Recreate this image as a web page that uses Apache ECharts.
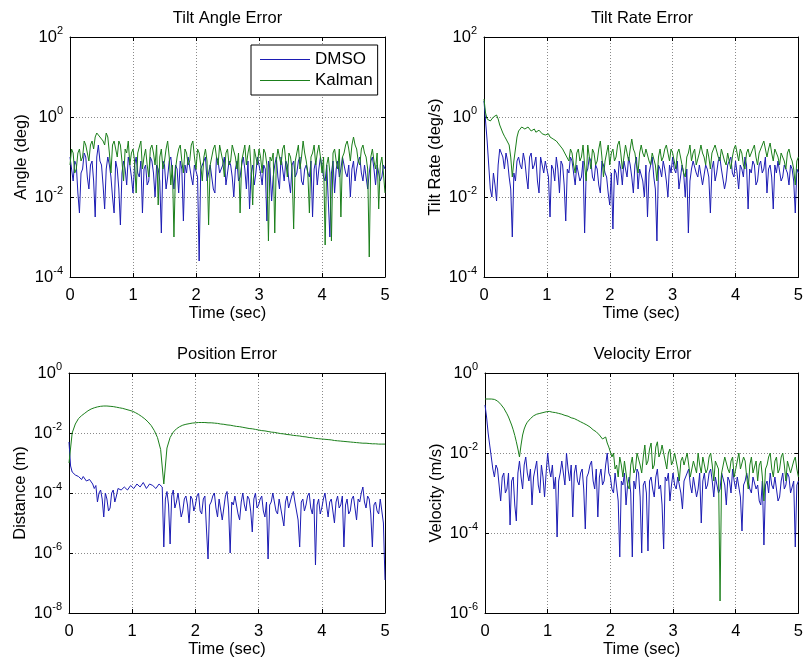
<!DOCTYPE html>
<html>
<head>
  <meta charset="utf-8">
  <script src="https://cdn.jsdelivr.net/npm/echarts@6.0.0/dist/echarts.min.js"></script>
</head>
<body style="margin:0;background:#fff">
  <div id="main" style="width:806px;height:664px;"></div>

<script type="text/javascript">
// all series are log10 of the error, sampled evenly from 0 to 5 s
// (0.025 s steps, except posKalman which is smooth and uses 0.05 s)

var angleDmso = [
  -1.0, -1.3, -1.6, -1.1, -1.2, -1.9, -2.4, -1.4, -1.3, -0.9, -1.0, -1.5, -1.8, -1.2, -1.1, -1.6, -2.5, -1.0, -0.7, -1.1,
  -1.2, -1.7, -2.3, -1.3, -1.0, -1.2, -1.5, -2.0, -2.4, -1.1, -1.3, -1.8, -2.7, -1.4, -1.1, -1.3, -1.7, -1.0, -1.2, -1.5,
  -1.9, -1.2, -1.0, -1.4, -1.5, -1.1, -2.4, -1.3, -1.2, -1.7, -1.6, -1.0, -1.1, -1.4, -2.0, -1.2, -1.3, -1.6, -2.9, -1.1,
  -1.2, -1.8, -1.5, -1.1, -1.0, -1.4, -1.8, -1.2, -1.3, -1.9, -1.1, -1.3, -2.6, -1.2, -1.4, -1.0, -1.0, -1.5, -1.7, -1.2,
  -1.2, -1.5, -3.6, -1.3, -1.3, -1.1, -1.0, -1.6, -1.6, -1.2, -1.2, -1.8, -1.9, -1.0, -1.1, -1.4, -1.4, -1.2, -1.0, -1.7,
  -1.7, -1.1, -1.2, -1.5, -2.0, -1.3, -1.1, -1.6, -1.5, -1.2, -1.0, -1.3, -1.8, -1.1, -2.3, -1.4, -1.2, -1.7, -1.4, -1.0,
  -1.0, -1.4, -1.7, -1.2, -1.3, -2.6, -1.1, -1.3, -2.1, -1.5, -1.2, -1.0, -1.5, -1.8, -1.0, -1.3, -1.6, -1.1, -1.2, -1.6,
  -1.9, -1.2, -1.1, -1.5, -1.4, -1.1, -1.0, -1.6, -1.7, -1.3, -1.2, -1.4, -1.5, -1.1, -2.5, -1.3, -1.1, -1.7, -1.3, -1.0,
  -1.0, -1.5, -1.6, -1.2, -1.2, -3.0, -1.4, -1.1, -1.9, -1.3, -1.1, -1.5, -1.3, -1.0, -1.0, -1.4, -1.5, -1.2, -2.0, -1.3,
  -1.1, -1.6, -1.3, -1.1, -1.0, -1.4, -1.6, -1.2, -1.2, -1.8, -1.4, -1.1, -1.0, -1.3, -1.7, -1.2, -1.2, -1.6, -1.5, -1.2,
  -1.3
];
var angleKalman = [
  -1.2, -0.8, -0.9, -1.4, -1.3, -0.9, -0.8, -1.1, -1.0, -0.6, -0.7, -0.9, -1.1, -0.7, -0.6, -0.8, -0.5, -0.4, -0.35, -0.5,
  -0.45, -0.6, -0.7, -0.4, -0.5, -0.9, -1.4, -0.7, -0.6, -0.8, -1.0, -0.6, -0.7, -1.1, -1.6, -0.8, -0.9, -0.6, -1.2, -0.9,
  -0.8, -1.1, -1.9, -0.9, -0.9, -0.6, -1.3, -1.0, -0.8, -1.2, -1.5, -0.8, -0.7, -0.9, -1.2, -0.7, -2.2, -1.0, -0.8, -1.3,
  -1.1, -0.8, -0.6, -1.0, -1.7, -1.2, -3.0, -1.3, -1.0, -0.8, -0.7, -1.1, -1.4, -0.8, -0.9, -1.2, -1.1, -0.7, -0.6, -1.0,
  -1.3, -0.8, -0.9, -1.2, -1.6, -1.0, -0.8, -1.1, -2.7, -1.2, -1.0, -0.8, -0.7, -1.0, -1.2, -0.7, -0.9, -1.1, -1.5, -0.9,
  -0.8, -1.2, -1.1, -0.7, -0.7, -1.0, -1.3, -0.9, -2.4, -1.1, -0.9, -0.7, -1.2, -0.9, -0.7, -1.3, -2.2, -0.8, -1.0, -1.2,
  -0.8, -1.0, -1.4, -0.8, -0.9, -1.2, -3.1, -1.0, -1.1, -0.9, -2.9, -1.1, -0.8, -1.0, -1.2, -0.8, -0.7, -1.1, -1.5, -0.9,
  -1.0, -1.3, -2.8, -1.1, -0.9, -0.7, -1.3, -1.0, -0.6, -0.9, -1.1, -1.4, -2.4, -1.0, -0.9, -0.7, -1.2, -0.9, -0.7, -1.0,
  -1.4, -1.0, -3.2, -1.2, -1.0, -1.4, -3.1, -0.9, -0.8, -1.1, -1.3, -0.8, -2.5, -1.0, -0.9, -0.7, -0.6, -0.8, -1.1, -0.7,
  -0.5, -0.7, -0.8, -1.1, -1.2, -0.8, -0.7, -0.9, -1.0, -1.3, -3.5, -1.0, -0.8, -1.1, -1.3, -0.9, -2.3, -1.2, -1.0, -1.4,
  -1.9
];

var rateDmso = [
  0.4, -0.1, -0.6, -1.2, -1.8, -2.0, -1.4, -1.7, -2.1, -1.2, -0.8, -0.9, -1.0, -1.3, -0.9, -1.1, -1.5, -1.8, -3.0, -1.4,
  -1.6, -1.1, -1.0, -1.2, -1.3, -0.9, -1.1, -1.5, -1.8, -1.0, -0.9, -1.3, -1.2, -1.0, -1.6, -1.9, -1.0, -1.2, -1.4, -1.1,
  -1.1, -1.5, -2.5, -1.2, -1.3, -1.6, -1.0, -1.3, -1.9, -1.1, -1.2, -1.7, -2.6, -1.3, -1.4, -1.0, -1.1, -1.4, -1.7, -1.2,
  -1.2, -1.6, -1.5, -1.1, -2.9, -1.4, -1.3, -1.0, -1.1, -1.5, -1.6, -1.2, -1.3, -1.7, -1.9, -1.1, -1.2, -1.4, -1.5, -1.9,
  -2.2, -1.4, -2.8, -1.3, -1.4, -1.7, -1.1, -1.3, -1.7, -1.1, -1.3, -1.5, -1.0, -1.2, -1.5, -1.9, -1.2, -1.0, -1.8, -1.3,
  -1.3, -1.6, -2.0, -1.2, -2.5, -1.4, -1.2, -1.0, -1.5, -1.8, -3.1, -1.2, -1.3, -1.5, -1.1, -1.3, -1.6, -2.0, -1.2, -1.4,
  -1.0, -1.3, -1.4, -1.1, -1.8, -1.5, -1.2, -1.4, -2.0, -1.3, -2.9, -1.6, -1.3, -1.1, -1.1, -1.4, -1.5, -1.2, -1.2, -1.7,
  -1.7, -1.2, -1.3, -1.5, -2.4, -1.3, -1.1, -1.6, -1.4, -1.1, -1.0, -1.3, -1.3, -1.8, -1.6, -1.2, -1.2, -1.0, -1.4, -1.5,
  -1.1, -1.4, -1.8, -1.2, -1.3, -1.5, -1.0, -1.2, -2.3, -1.3, -1.4, -1.1, -1.2, -1.7, -1.6, -1.2, -1.1, -1.4, -1.3, -1.0,
  -1.9, -1.3, -1.2, -1.5, -2.3, -1.2, -1.4, -1.1, -1.1, -1.6, -1.5, -1.2, -1.2, -1.4, -1.7, -1.2, -1.3, -1.6, -2.4, -1.3,
  -1.4
];
var rateKalman = [
  0.45, 0.1, -0.05, -0.08, -0.1, -0.05, 0.0, 0.03, 0.05, -0.05, -0.2, -0.3, -0.4, -0.48, -0.55, -0.6, -0.7, -1.0, -1.5, -1.1,
  -0.8, -0.5, -0.35, -0.3, -0.25, -0.2, -0.3, -0.28, -0.25, -0.3, -0.35, -0.3, -0.3, -0.38, -0.4, -0.33, -0.35, -0.42, -0.4, -0.45,
  -0.45, -0.42, -0.5, -0.55, -0.55, -0.5, -0.6, -0.65, -0.7, -0.75, -0.8, -0.85, -0.95, -0.9, -1.1, -0.8, -0.9, -1.2, -1.4, -0.9,
  -0.8, -1.1, -1.0, -0.7, -1.2, -1.6, -0.7, -1.0, -1.3, -0.8, -0.9, -1.2, -1.1, -0.8, -0.6, -1.0, -1.5, -1.1, -0.9, -0.7,
  -1.2, -0.9, -0.8, -1.1, -1.0, -0.7, -0.6, -0.9, -1.3, -1.0, -0.7, -0.9, -1.1, -0.8, -0.55, -0.8, -0.9, -1.2, -1.4, -0.9,
  -0.7, -0.9, -1.0, -0.8, -0.8, -1.1, -1.2, -0.9, -0.9, -1.2, -1.6, -1.0, -0.8, -1.1, -1.0, -0.8, -0.7, -0.9, -1.1, -0.8,
  -0.9, -1.1, -1.3, -0.9, -0.8, -1.0, -1.0, -1.4, -1.5, -1.0, -0.9, -0.7, -1.1, -0.9, -0.8, -1.2, -1.2, -0.9, -0.7, -0.9,
  -1.0, -1.2, -0.8, -1.0, -1.3, -0.9, -0.9, -0.7, -0.7, -1.0, -1.1, -0.8, -0.8, -1.1, -1.2, -0.9, -0.9, -1.3, -1.0, -0.8,
  -0.7, -0.9, -1.1, -0.8, -0.9, -1.2, -1.3, -0.9, -0.8, -1.0, -1.0, -0.8, -0.7, -1.0, -1.2, -0.9, -0.9, -0.7, -0.6, -0.8,
  -1.0, -0.8, -0.65, -0.9, -1.1, -0.8, -0.8, -1.0, -1.2, -0.9, -0.9, -1.1, -1.3, -0.9, -0.8, -1.0, -1.1, -1.3, -1.7, -1.1,
  -1.0
];

var posDmso = [
  -2.3, -3.1, -3.3, -3.25, -3.4, -3.35, -3.45, -3.5, -3.55, -3.45, -3.5, -3.6, -3.65, -3.55, -3.6, -3.7, -3.85, -3.75, -4.3, -4.0,
  -3.9, -4.2, -4.8, -4.0, -4.2, -4.6, -4.5, -4.0, -3.9, -4.3, -4.1, -3.85, -3.8, -3.9, -3.95, -3.8, -3.75, -3.9, -3.85, -3.75,
  -3.7, -3.85, -3.8, -3.7, -3.65, -3.8, -3.75, -3.65, -3.7, -3.85, -3.8, -3.7, -3.65, -3.75, -3.75, -3.85, -3.9, -3.7, -3.7, -3.8,
  -5.8, -4.2, -3.95, -4.4, -5.7, -4.1, -3.9, -4.5, -4.3, -4.0, -4.0, -4.8, -4.6, -4.2, -4.1, -4.4, -5.0, -4.1, -4.2, -4.6,
  -4.4, -4.1, -4.0, -4.6, -4.7, -4.2, -4.1, -5.2, -6.2, -4.4, -4.3, -4.1, -4.0, -4.5, -4.8, -4.2, -4.2, -4.9, -4.5, -4.1,
  -3.95, -4.5, -6.0, -4.3, -4.4, -4.1, -4.1, -4.7, -4.9, -4.3, -4.0, -4.4, -4.6, -4.1, -4.2, -4.6, -5.3, -4.2, -4.0, -4.5,
  -4.4, -4.2, -4.1, -4.6, -4.8, -4.3, -6.2, -4.4, -4.3, -4.0, -4.0, -4.6, -4.7, -4.2, -4.2, -4.8, -5.1, -4.3, -4.1, -4.5,
  -4.5, -4.1, -3.95, -4.3, -4.6, -4.9, -5.8, -4.3, -4.2, -4.6, -4.4, -4.1, -4.0, -4.5, -4.7, -4.2, -6.4, -4.4, -4.2, -4.7,
  -4.5, -4.2, -4.0, -4.4, -4.8, -4.3, -4.2, -4.6, -5.0, -4.3, -4.1, -4.5, -4.4, -4.1, -5.8, -4.4, -4.2, -4.7, -4.6, -4.2,
  -4.1, -4.5, -4.9, -4.2, -4.3, -4.0, -3.8, -4.3, -4.5, -4.1, -4.2, -4.7, -5.8, -4.4, -4.3, -4.6, -4.7, -4.2, -4.2, -5.0,
  -6.9
];
var posKalman = [
  -3.0, -2.0, -1.7, -1.52, -1.42, -1.34, -1.26, -1.2, -1.16, -1.13,
  -1.11, -1.1, -1.1, -1.11, -1.12, -1.14, -1.16, -1.18, -1.21, -1.24,
  -1.27, -1.32, -1.38, -1.45, -1.53, -1.63, -1.75, -1.92, -2.15, -2.55,
  -3.7, -2.5, -2.15, -1.97, -1.86, -1.79, -1.74, -1.71, -1.69, -1.67,
  -1.66, -1.65, -1.65, -1.65, -1.66, -1.66, -1.67, -1.68, -1.7, -1.71,
  -1.73, -1.74, -1.76, -1.78, -1.79, -1.81, -1.83, -1.85, -1.86, -1.88,
  -1.9, -1.92, -1.93, -1.95, -1.97, -1.98, -2.0, -2.02, -2.03, -2.05,
  -2.06, -2.08, -2.09, -2.1, -2.12, -2.13, -2.15, -2.16, -2.18, -2.19,
  -2.2, -2.21, -2.22, -2.23, -2.25, -2.26, -2.27, -2.28, -2.29, -2.3,
  -2.31, -2.32, -2.33, -2.34, -2.34, -2.35, -2.36, -2.36, -2.37, -2.37,
  -2.37
];

var velDmso = [
  -0.8, -1.1, -1.5, -1.8, -2.1, -2.4, -2.6, -2.3, -2.4, -2.8, -3.2, -2.6, -2.5, -3.0, -2.9, -2.5, -3.8, -2.7, -2.6, -3.3,
  -3.7, -2.5, -2.2, -2.6, -2.9, -2.3, -2.1, -2.5, -2.7, -2.4, -3.3, -2.6, -2.4, -2.2, -2.8, -3.0, -2.3, -2.6, -3.1, -2.5,
  -2.0, -2.4, -2.6, -2.3, -2.9, -2.6, -4.1, -2.7, -2.5, -2.2, -2.2, -2.8, -2.0, -2.4, -2.7, -2.3, -3.6, -2.5, -2.3, -2.7,
  -2.8, -2.5, -2.4, -2.9, -3.9, -2.6, -2.5, -2.3, -2.2, -2.7, -2.9, -2.4, -3.6, -2.6, -2.4, -2.8, -2.7, -2.3, -2.0, -2.5,
  -2.6, -2.9, -3.0, -2.5, -2.5, -3.2, -4.6, -2.7, -2.8, -2.5, -3.3, -2.8, -2.6, -3.0, -4.6, -2.7, -2.9, -2.4, -2.5, -3.1,
  -4.5, -2.8, -2.7, -3.0, -4.45, -2.7, -2.6, -2.9, -3.1, -2.6, -2.4, -2.9, -2.8, -3.3, -4.4, -2.6, -2.7, -2.5, -3.2, -2.8,
  -2.5, -2.8, -2.9, -2.6, -2.6, -3.0, -3.4, -2.7, -2.7, -2.5, -2.4, -2.8, -3.0, -2.6, -2.6, -3.1, -2.9, -2.5, -3.75, -2.7,
  -2.5, -2.9, -2.8, -2.5, -2.4, -2.7, -3.1, -2.6, -2.6, -3.0, -2.9, -2.5, -2.5, -2.8, -3.3, -2.6, -2.7, -3.0, -2.4, -2.7,
  -2.9, -2.6, -2.6, -3.1, -3.95, -2.8, -2.7, -2.5, -2.5, -2.9, -3.0, -2.6, -2.6, -2.9, -2.8, -3.2, -3.3, -2.7, -4.3, -2.8,
  -2.7, -3.0, -2.5, -2.8, -2.9, -2.6, -2.6, -3.2, -3.1, -2.7, -2.5, -2.9, -2.8, -2.5, -2.6, -3.0, -3.0, -2.7, -4.35, -2.8,
  -2.7
];
var velKalman = [
  -0.65, -0.65, -0.65, -0.65, -0.65, -0.65, -0.66, -0.68, -0.7, -0.74, -0.78, -0.83, -0.88, -0.95, -1.02, -1.1, -1.2, -1.3, -1.42, -1.56,
  -1.72, -1.9, -2.1, -1.8, -1.55, -1.4, -1.3, -1.23, -1.18, -1.14, -1.1, -1.07, -1.05, -1.03, -1.02, -1.01, -1.0, -0.99, -0.98, -0.97,
  -0.97, -0.96, -0.97, -0.98, -0.98, -0.99, -1.0, -1.01, -1.02, -1.03, -1.04, -1.06, -1.07, -1.08, -1.1, -1.12, -1.13, -1.14, -1.16, -1.18,
  -1.2, -1.22, -1.24, -1.26, -1.28, -1.3, -1.33, -1.35, -1.38, -1.42, -1.45, -1.47, -1.5, -1.55, -1.6, -1.65, -1.68, -1.6, -1.75, -1.85,
  -1.9, -2.1, -2.0, -2.4, -2.3, -2.6, -2.1, -2.3, -2.6, -2.2, -2.2, -2.8, -2.9, -2.3, -2.1, -2.5, -2.4, -2.0, -1.95, -2.3,
  -2.5, -2.1, -1.8, -2.3, -2.2, -1.9, -1.75, -2.4, -2.3, -1.85, -1.72, -2.1, -2.0, -1.8, -1.8, -2.2, -2.4, -2.0, -1.9, -2.3,
  -2.2, -2.0, -2.0, -2.4, -2.7, -2.2, -2.1, -2.3, -2.3, -2.0, -2.05, -2.6, -2.6, -2.2, -2.2, -2.5, -2.0, -2.3, -2.5, -2.1,
  -2.1, -2.5, -2.4, -2.1, -2.0, -2.3, -2.7, -2.2, -2.2, -2.4, -5.7, -2.5, -2.3, -2.1, -2.05, -2.4, -2.5, -2.2, -2.1, -2.6,
  -2.6, -2.2, -2.0, -2.4, -2.4, -2.1, -2.2, -2.6, -2.9, -2.3, -2.1, -2.5, -2.5, -2.2, -2.7, -2.3, -2.2, -2.6, -3.2, -2.4,
  -2.3, -2.1, -2.0, -2.4, -2.6, -2.2, -2.1, -2.5, -2.4, -2.1, -2.0, -2.3, -2.7, -2.2, -2.2, -2.5, -2.5, -2.2, -2.1, -2.4,
  -2.6
];

var titles = ['Tilt Angle Error', 'Tilt Rate Error', 'Position Error', 'Velocity Error'];
var yNames = ['Angle (deg)', 'Tilt Rate (deg/s)', 'Distance (m)', 'Velocity (m/s)'];
var yRanges = [[-4, 2], [-4, 2], [-8, 0], [-6, 0]];
var dmsoSets = [angleDmso, rateDmso, posDmso, velDmso];
var kalmanSets = [angleKalman, rateKalman, posKalman, velKalman];

var rects = [
  {left: 70, top: 37, width: 315, height: 240},
  {left: 484, top: 37, width: 316, height: 240},
  {left: 69, top: 373, width: 316, height: 240},
  {left: 485, top: 373, width: 315, height: 240}
];

var font = '"Liberation Sans", Arial, sans-serif';
var fs = 16.5;
var blue = '#1c1cb4';
var green = '#1b7f1b';

// pair each sample with its time, samples span 0..5 s evenly
function withTime(vals) {
  var step = 5 / (vals.length - 1);
  return vals.map(function (v, i) { return [+(i * step).toFixed(3), v]; });
}

var frame = {show: true, onZero: false, lineStyle: {color: '#000', width: 1}};
var ticks = {show: true, inside: true, length: 4, lineStyle: {color: '#000', width: 1}};
var dotted = {show: true, lineStyle: {color: '#8a8a8a', width: 1, type: [1, 2]}};

var option = {
  animation: false,
  backgroundColor: '#fff',
  textStyle: {fontFamily: font, color: '#000'},
  title: [], grid: [], xAxis: [], yAxis: [], series: [],
  legend: {
    data: ['DMSO', 'Kalman'],
    orient: 'vertical',
    left: 251, top: 45,
    padding: [6, 5, 6, 9],
    icon: 'rect',
    itemWidth: 50, itemHeight: 1, itemGap: 4,
    borderColor: '#000', borderWidth: 1, borderRadius: 0,
    backgroundColor: '#fff',
    textStyle: {fontSize: 17, color: '#000', fontFamily: font}
  }
};

rects.forEach(function (r, i) {
  option.grid.push({left: r.left, top: r.top, width: r.width, height: r.height, containLabel: false});
  option.title.push({
    text: titles[i],
    left: r.left + r.width / 2, top: r.top - 27, padding: 0,
    textAlign: 'center',
    textStyle: {fontSize: fs, fontWeight: 'normal', color: '#000', fontFamily: font}
  });
  option.xAxis.push({
    gridIndex: i, type: 'value', min: 0, max: 5, interval: 1,
    axisLine: frame, axisTick: ticks, splitLine: dotted,
    axisLabel: {fontSize: fs, color: '#000', margin: 10, fontFamily: font},
    name: 'Time (sec)', nameLocation: 'middle', nameGap: 26,
    nameTextStyle: {fontSize: fs, color: '#000', fontFamily: font}
  });
  option.xAxis.push({
    gridIndex: i, type: 'value', position: 'top', min: 0, max: 5, interval: 1,
    axisLine: frame, axisTick: ticks, axisLabel: {show: false}, splitLine: {show: false}
  });
  option.yAxis.push({
    gridIndex: i, type: 'value', min: yRanges[i][0], max: yRanges[i][1], interval: 2,
    axisLine: frame, axisTick: ticks, splitLine: dotted,
    axisLabel: {
      margin: 7, color: '#000', fontFamily: font,
      formatter: function (v) { return '{b|10}{s|' + v + '}'; },
      rich: {
        b: {fontSize: fs, lineHeight: 24, color: '#000', fontFamily: font},
        s: {fontSize: 11, lineHeight: 11, verticalAlign: 'top', color: '#000', fontFamily: font}
      }
    },
    name: yNames[i], nameLocation: 'middle', nameGap: 40,
    nameTextStyle: {fontSize: fs, color: '#000', fontFamily: font}
  });
  option.yAxis.push({
    gridIndex: i, type: 'value', position: 'right', min: yRanges[i][0], max: yRanges[i][1], interval: 2,
    axisLine: frame, axisTick: ticks, axisLabel: {show: false}, splitLine: {show: false}
  });
  option.series.push({
    name: 'DMSO', type: 'line', xAxisIndex: 2 * i, yAxisIndex: 2 * i,
    data: withTime(dmsoSets[i]), symbol: 'none', showSymbol: false,
    lineStyle: {color: blue, width: 1}, itemStyle: {color: blue}
  });
  option.series.push({
    name: 'Kalman', type: 'line', xAxisIndex: 2 * i, yAxisIndex: 2 * i,
    data: withTime(kalmanSets[i]), symbol: 'none', showSymbol: false,
    lineStyle: {color: green, width: 1}, itemStyle: {color: green}
  });
});

var myChart = echarts.init(document.getElementById('main'));
myChart.setOption(option);
</script>
</body>
</html>
